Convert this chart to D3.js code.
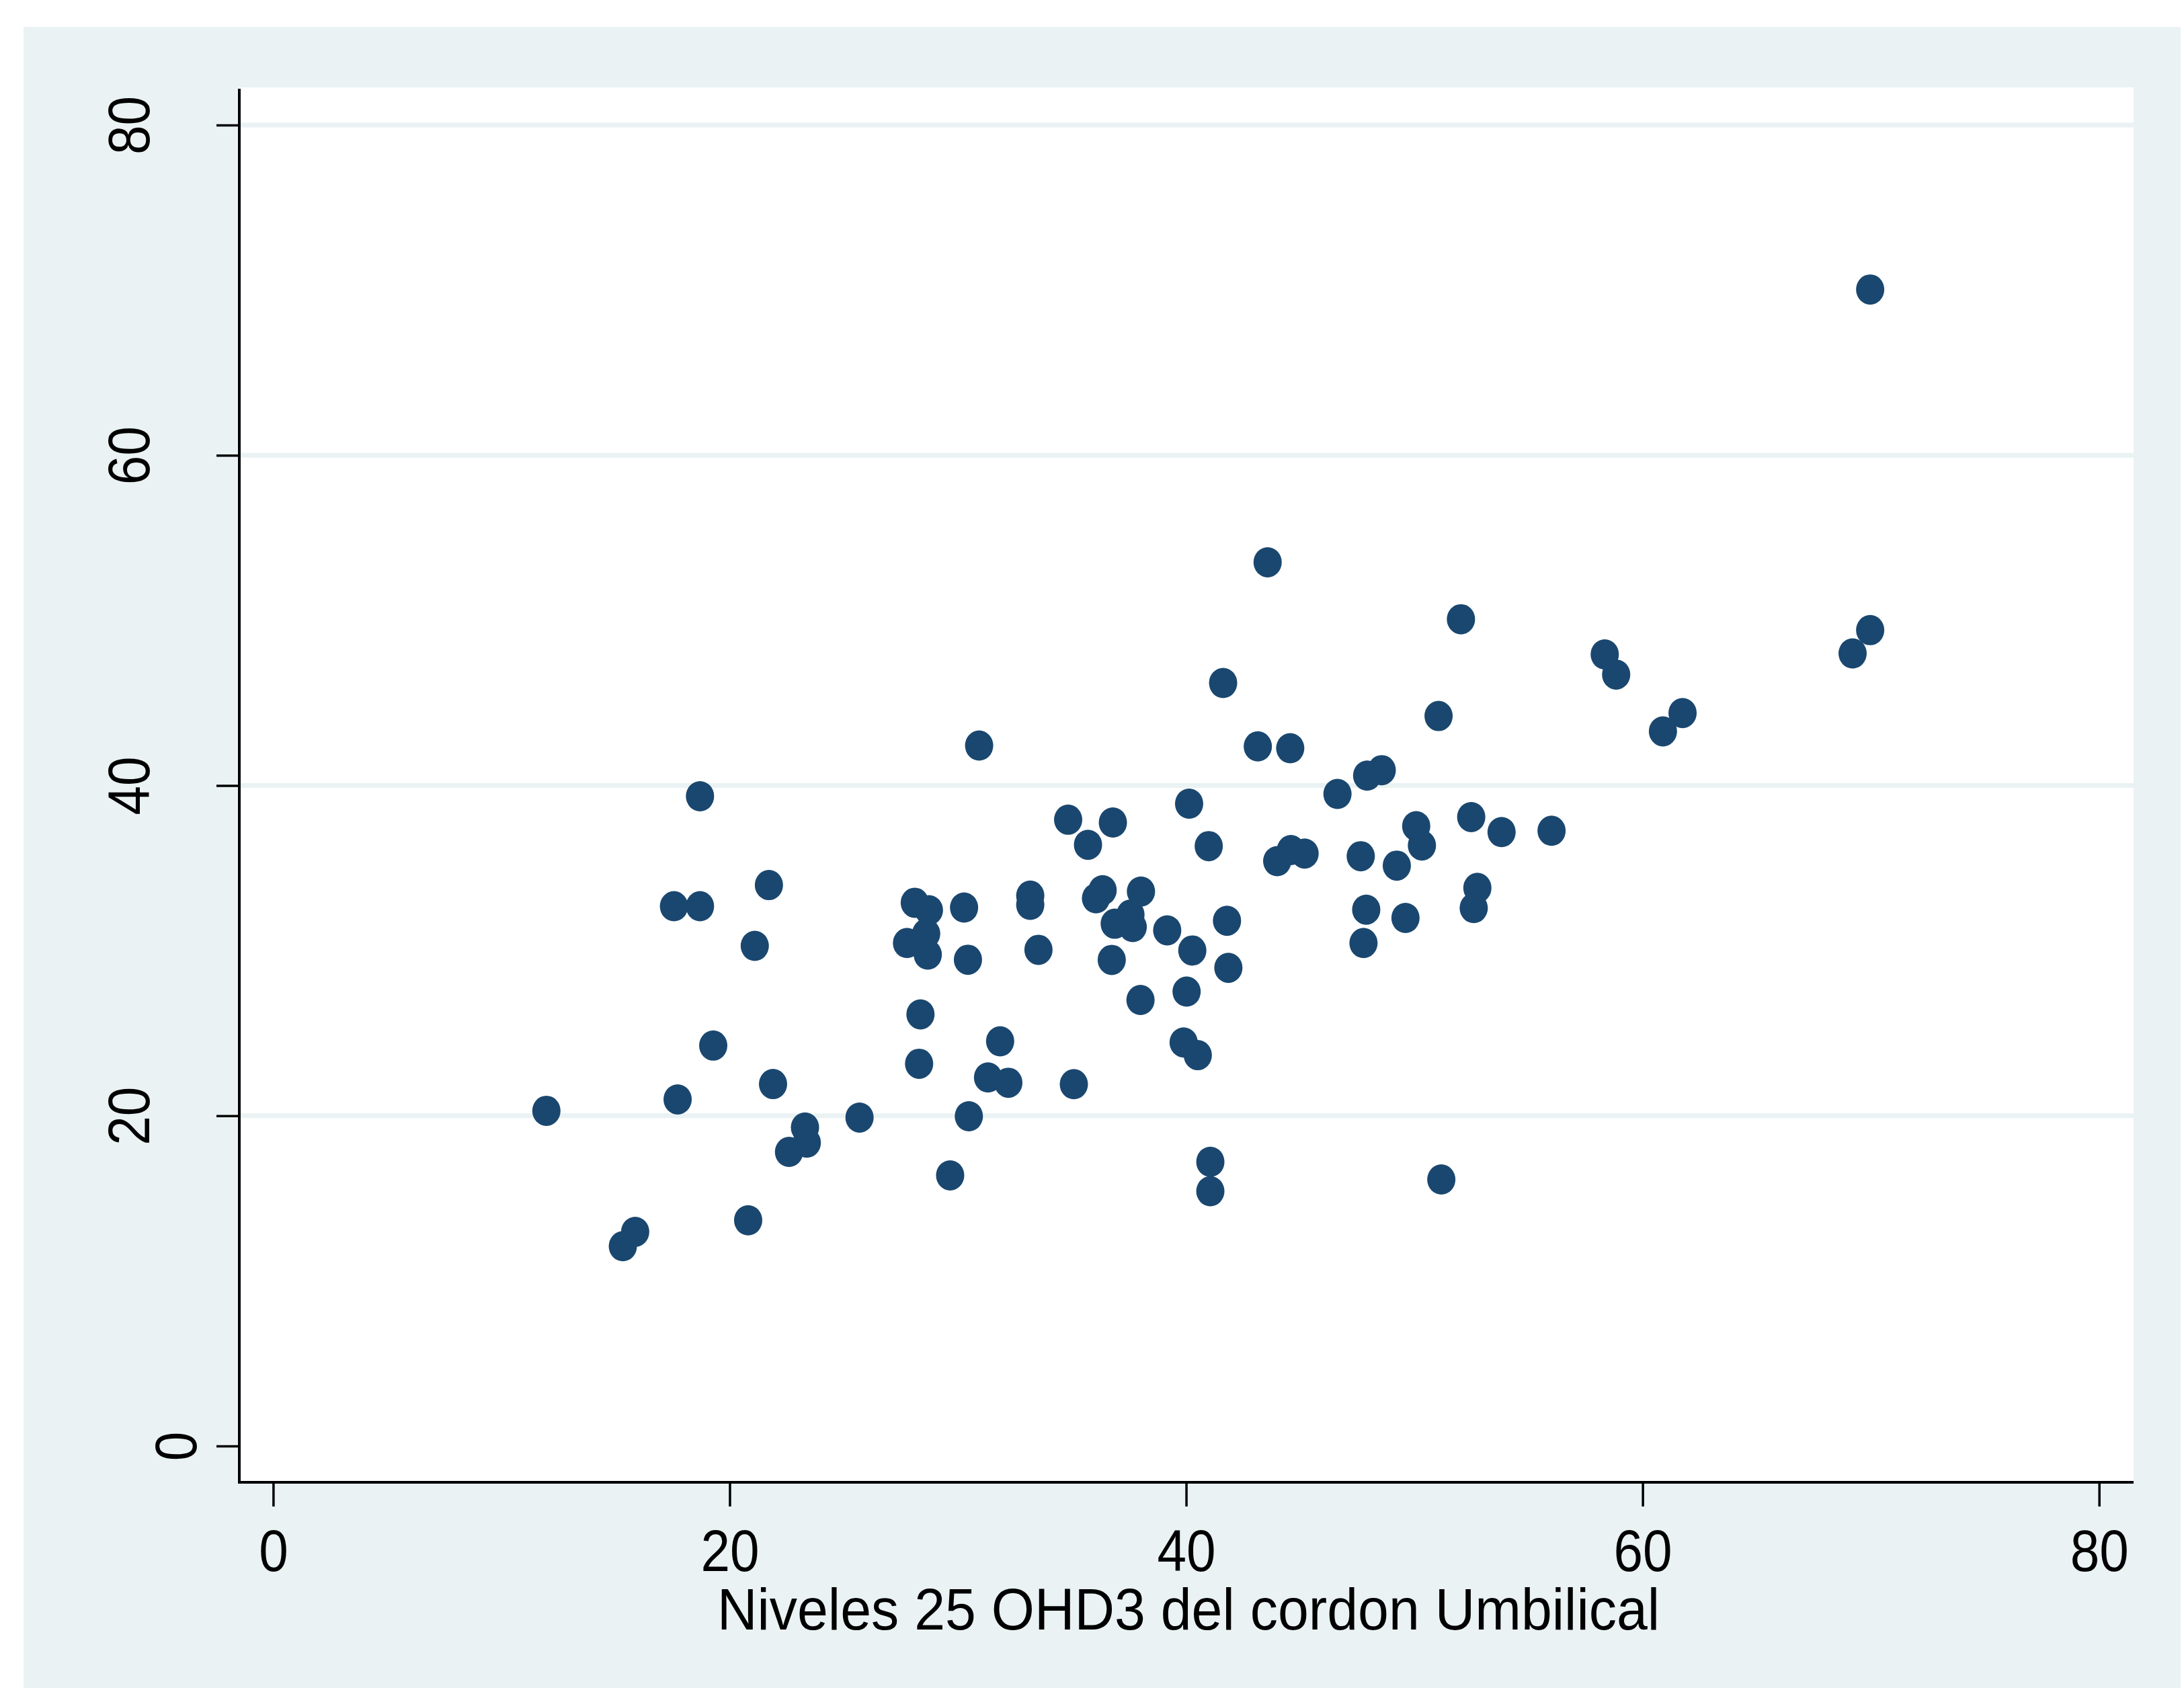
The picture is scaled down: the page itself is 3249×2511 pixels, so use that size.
<!DOCTYPE html>
<html>
<head>
<meta charset="utf-8">
<script src="https://cdn.jsdelivr.net/npm/d3@7"></script>
<style>
  html, body { margin: 0; padding: 0; background: #fff; }
  svg { display: block; }
  text { font-family: "Liberation Sans", Arial, Helvetica, sans-serif; fill: #000; }
</style>
</head>
<body>
<svg id="chart" width="3249" height="2511"></svg>
<script>
// 25 OHD3 values (x = cord blood, y = second measurement)
const xVals = [
  18.70, 17.56, 18.70, 21.72, 21.10, 28.11, 28.73, 28.61, 27.77, 28.68,
  30.27, 30.44, 28.36, 19.28, 31.85, 28.30, 31.32, 32.21, 21.90, 17.72,
  11.97, 25.69, 30.48, 23.30, 23.38, 22.60, 29.66, 20.81, 15.86, 15.32,
  41.62, 51.06, 43.14, 44.56, 48.57, 47.93, 46.63, 40.13, 34.83, 36.79,
  52.49, 53.82, 50.08, 50.33, 35.70, 40.99, 44.59, 45.19, 43.99, 47.65,
  49.23, 33.17, 33.17, 36.34, 36.05, 38.02, 37.56, 36.87, 37.66, 39.17,
  41.79, 47.89, 49.61, 52.76, 52.60, 33.53, 40.27, 47.77, 36.74, 41.85,
  40.02, 38.00, 39.89, 40.51, 35.08, 41.06, 41.06, 51.18, 30.93,
  69.97, 69.20, 58.34, 58.84, 61.75, 60.89, 56.01, 43.57, 52.04, 69.97
];
const yVals = [
  39.35, 32.69, 32.69, 33.97, 30.29, 32.90, 32.45, 31.03, 30.46, 29.76,
  32.61, 29.45, 26.14, 24.25, 24.51, 23.15, 22.32, 22.00, 21.92, 20.99,
  20.30, 19.89, 19.97, 19.29, 18.37, 17.81, 16.39, 13.67, 12.97, 12.10,
  46.21, 44.21, 42.37, 42.26, 40.93, 40.60, 39.49, 38.90, 37.93, 37.76,
  38.09, 37.18, 37.54, 36.37, 36.41, 36.33, 36.09, 35.88, 35.42, 35.72,
  35.15, 33.33, 32.77, 33.66, 33.17, 33.58, 32.18, 31.63, 31.43, 31.23,
  31.81, 32.48, 31.98, 33.80, 32.58, 30.05, 30.01, 30.46, 29.44, 28.96,
  27.52, 27.01, 24.44, 23.67, 21.91, 17.21, 15.43, 16.14, 42.42,
  49.41, 48.00, 47.94, 46.72, 44.39, 43.28, 37.26, 53.52, 50.07, 70.04
];
const xTicks = [0, 20, 40, 60, 80];
const yTicks = [0, 20, 40, 60, 80];
const yGrid = [20, 40, 60, 80];
const xTitle = "Niveles 25 OHD3 del cordon Umbilical";

const points = xVals.map((v, i) => ({ x: v, y: yVals[i] }));

const bg = "#EAF2F3";
const navy = "#1A476F";
const squeeze = 0.89;      // tick labels are narrower than Liberation Sans
const titleSqueeze = 0.937;

const svg = d3.select("#chart");

// graph region
svg.append("rect")
  .attr("x", 35).attr("y", 40)
  .attr("width", 3209).attr("height", 2471)
  .attr("fill", bg);

// plot region
const plot = { left: 356, right: 3174, top: 130, bottom: 2205 };
svg.append("rect")
  .attr("x", plot.left).attr("y", plot.top)
  .attr("width", plot.right - plot.left).attr("height", plot.bottom - plot.top)
  .attr("fill", "#fff");

const x = d3.scaleLinear().domain([0, 80]).range([406.4, 3122.7]);
const y = d3.scaleLinear().domain([0, 80]).range([2151, 186]);

// grid lines
svg.append("g")
  .selectAll("line")
  .data(yGrid)
  .join("line")
  .attr("x1", plot.left).attr("x2", plot.right)
  .attr("y1", d => y(d)).attr("y2", d => y(d))
  .attr("stroke", bg)
  .attr("stroke-width", 7);

// dots
svg.append("g")
  .selectAll("ellipse")
  .data(points)
  .join("ellipse")
  .attr("cx", d => x(d.x))
  .attr("cy", d => y(d.y))
  .attr("rx", 21)
  .attr("ry", 22.5)
  .attr("fill", navy);

// X axis
const gx = svg.append("g")
  .attr("transform", `translate(0,${plot.bottom})`)
  .call(d3.axisBottom(x).tickValues(xTicks).tickSize(36).tickSizeOuter(0).tickPadding(34));
gx.select(".domain").remove();
gx.selectAll(".tick line").attr("stroke", "#000").attr("stroke-width", 3.5);
gx.selectAll(".tick text")
  .attr("font-size", 88)
  .attr("transform", `scale(${squeeze},1)`);

// Y axis
const gy = svg.append("g")
  .attr("transform", `translate(${plot.left},0)`)
  .call(d3.axisLeft(y).tickValues(yTicks).tickSize(34).tickSizeOuter(0));
gy.select(".domain").remove();
gy.selectAll(".tick line").attr("stroke", "#000").attr("stroke-width", 3.5);
gy.selectAll(".tick text")
  .attr("x", null).attr("dy", null)
  .attr("font-size", 88)
  .attr("text-anchor", "middle")
  .attr("transform", d => {
    const off = String(d).length === 1 ? -64 : -134;
    return `translate(${off},0) rotate(-90) scale(${squeeze},1)`;
  });

// axis lines
svg.append("line")
  .attr("x1", plot.left).attr("x2", plot.left)
  .attr("y1", 132).attr("y2", plot.bottom + 2)
  .attr("stroke", "#000").attr("stroke-width", 4);
svg.append("line")
  .attr("x1", plot.left - 2).attr("x2", plot.right)
  .attr("y1", plot.bottom).attr("y2", plot.bottom)
  .attr("stroke", "#000").attr("stroke-width", 4);

// X title
svg.append("text")
  .attr("text-anchor", "middle")
  .attr("font-size", 88)
  .attr("transform", `translate(${(plot.left + plot.right) / 2 + 3},2424) scale(${titleSqueeze},1)`)
  .text(xTitle);
</script>
</body>
</html>
